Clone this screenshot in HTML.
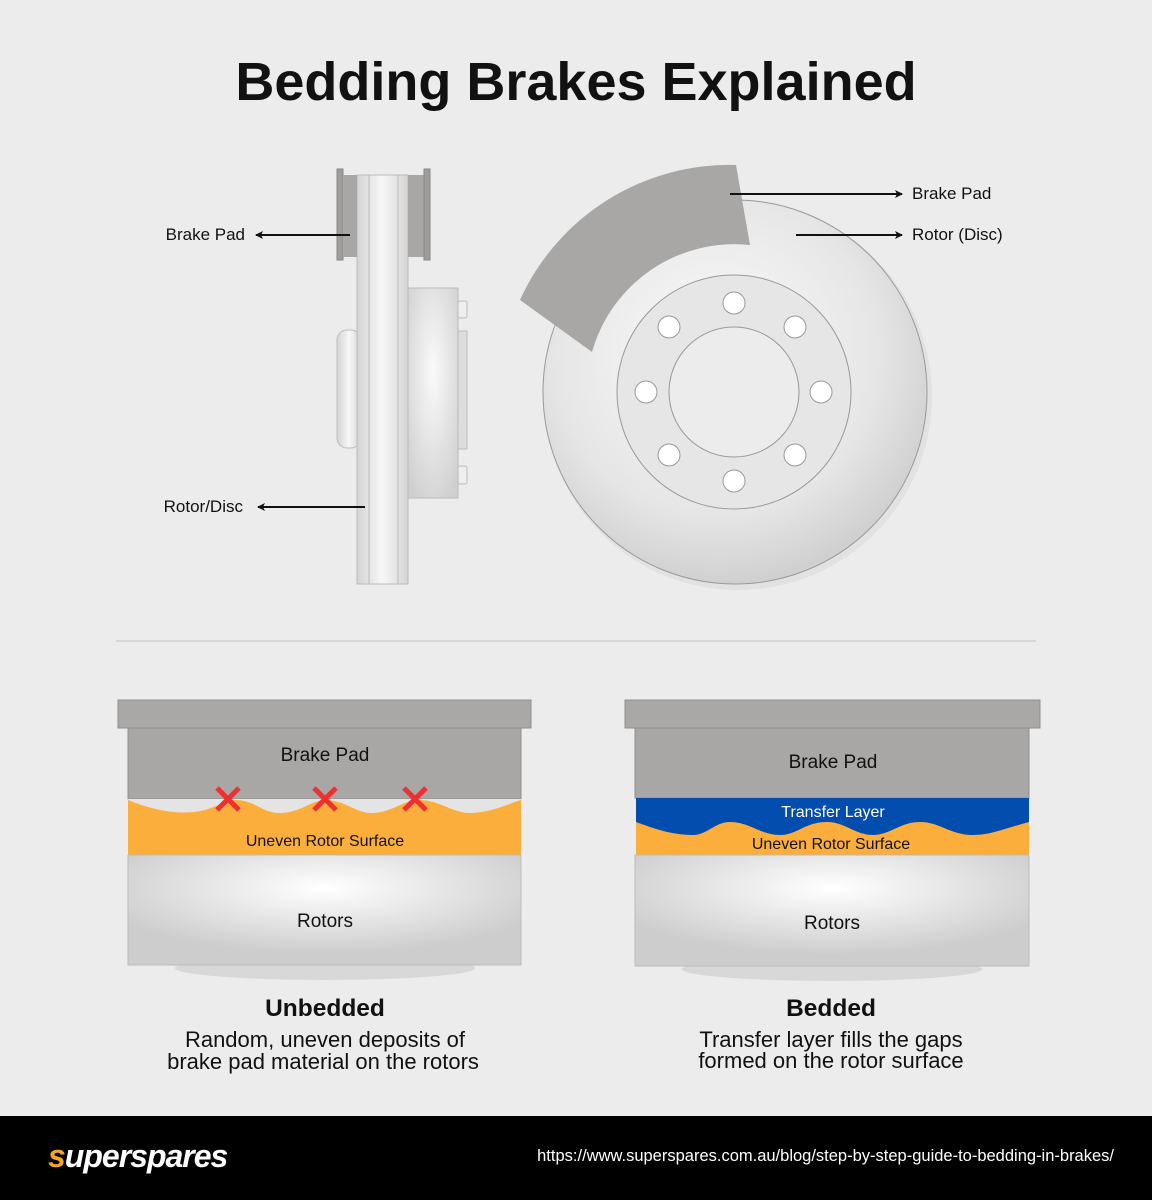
<!DOCTYPE html>
<html><head><meta charset="utf-8"><style>
html,body{margin:0;padding:0;background:#ececec;}
svg{display:block;font-family:"Liberation Sans",sans-serif;}
</style></head><body>
<svg width="1152" height="1200" viewBox="0 0 1152 1200" xmlns="http://www.w3.org/2000/svg">
<defs>
<radialGradient id="rg" cx="0.5" cy="0.4" r="0.7"><stop offset="0" stop-color="#fafafa"/><stop offset="1" stop-color="#cfcfcf"/></radialGradient>
<linearGradient id="vg" x1="0" x2="1"><stop offset="0" stop-color="#d4d4d4"/><stop offset="0.5" stop-color="#f7f7f7"/><stop offset="1" stop-color="#d4d4d4"/></linearGradient>
<radialGradient id="disc" cx="0.45" cy="0.4" r="0.6"><stop offset="0" stop-color="#fbfbfb"/><stop offset="0.7" stop-color="#e6e6e6"/><stop offset="1" stop-color="#d0d0d0"/></radialGradient>
<radialGradient id="rot" cx="0.5" cy="0.3" r="0.6"><stop offset="0" stop-color="#ffffff"/><stop offset="1" stop-color="#cdcdcd"/></radialGradient>
<marker id="ah" markerWidth="8" markerHeight="8" refX="7" refY="4" orient="auto" markerUnits="userSpaceOnUse"><path d="M0,0 L8,4 L0,8 L2,4 Z" fill="#111"/></marker>
</defs>
<rect width="1152" height="1200" fill="#ececec"/>
<text x="576" y="100" text-anchor="middle" font-size="54" font-weight="bold" fill="#111">Bedding Brakes Explained</text>

<rect x="337" y="330" width="24" height="118" rx="10" fill="url(#vg)" stroke="#bbb"/>
<rect x="408" y="288" width="50" height="210" fill="url(#rg)" stroke="#bbb"/>
<rect x="458" y="331" width="9" height="118" fill="#ddd" stroke="#bbb"/>
<rect x="458" y="301" width="9" height="17" rx="2" fill="#eee" stroke="#bbb"/>
<rect x="458" y="466" width="9" height="18" rx="2" fill="#eee" stroke="#bbb"/>
<rect x="357" y="175" width="51" height="409" fill="url(#vg)" stroke="#bbb"/>
<line x1="369" y1="175" x2="369" y2="584" stroke="#bbb"/>
<line x1="398" y1="175" x2="398" y2="584" stroke="#bbb"/>
<rect x="337" y="169" width="6" height="91" fill="#9e9d9b" stroke="#888"/>
<rect x="343" y="175" width="14" height="82" fill="#a8a7a5"/>
<rect x="408" y="175" width="16" height="82" fill="#a8a7a5"/>
<rect x="424" y="169" width="6" height="91" fill="#9e9d9b" stroke="#888"/>
<line x1="350" y1="235" x2="256" y2="235" stroke="#111" stroke-width="2" marker-end="url(#ah)"/>
<line x1="365" y1="507" x2="258" y2="507" stroke="#111" stroke-width="2" marker-end="url(#ah)"/>
<text x="245" y="240" text-anchor="end" font-size="17" fill="#111">Brake Pad</text>
<text x="243" y="512" text-anchor="end" font-size="17" fill="#111">Rotor/Disc</text>

<circle cx="738" cy="396" r="194" fill="#d8d8d8" opacity="0.5"/>
<circle cx="735" cy="392" r="192" fill="url(#disc)" stroke="#999"/>
<circle cx="734" cy="392" r="117" fill="#e6e6e6" stroke="#999"/>
<circle cx="734" cy="392" r="65" fill="#ececec" stroke="#999"/>
<g fill="#fff" stroke="#999">
<circle cx="734" cy="303" r="11"/><circle cx="795" cy="327" r="11"/><circle cx="821" cy="392" r="11"/><circle cx="795" cy="455" r="11"/>
<circle cx="734" cy="481" r="11"/><circle cx="669" cy="455" r="11"/><circle cx="646" cy="392" r="11"/><circle cx="669" cy="327" r="11"/>
</g>
<path d="M736,165 A230,230 0 0 0 520,300 L592,352 A148,148 0 0 1 750,245 Z" fill="#a8a7a5"/>
<line x1="730" y1="194" x2="902" y2="194" stroke="#111" stroke-width="2" marker-end="url(#ah)"/>
<line x1="796" y1="235" x2="902" y2="235" stroke="#111" stroke-width="2" marker-end="url(#ah)"/>
<text x="912" y="199" font-size="17" fill="#111">Brake Pad</text>
<text x="912" y="240" font-size="17" fill="#111">Rotor (Disc)</text>

<line x1="116" y1="641" x2="1036" y2="641" stroke="#d6d6d6" stroke-width="2"/>

<ellipse cx="325" cy="968" rx="150" ry="12" fill="#d0d0d0" opacity="0.7"/>
<rect x="118" y="700" width="413" height="28" fill="#a9a8a6" stroke="#8f8f8f"/>
<rect x="128" y="728" width="393" height="71" fill="#a8a7a5" stroke="#8f8f8f"/>
<rect x="128" y="799" width="393" height="20" fill="#e4e4e4"/>
<path d="M128,800 C160,813 185,815 205,810 C220,805 228,800 235,800 C255,800 262,813 280,813 C300,813 312,800 325,800 C345,800 355,813 372,813 C390,813 405,800 418,800 C440,800 452,813 470,813 C490,813 505,805 521,800 L521,855 L128,855 Z" fill="#fbae3c"/>
<g stroke="#f03030" stroke-width="5">
<path d="M217,788 L239,810 M239,788 L217,810"/><path d="M314,788 L336,810 M336,788 L314,810"/><path d="M404,788 L426,810 M426,788 L404,810"/>
</g>
<rect x="128" y="855" width="393" height="110" fill="url(#rot)" stroke="#bbb"/>
<text x="325" y="761" text-anchor="middle" font-size="19" fill="#111">Brake Pad</text>
<text x="325" y="846" text-anchor="middle" font-size="16" fill="#111">Uneven Rotor Surface</text>
<text x="325" y="927" text-anchor="middle" font-size="19" fill="#111">Rotors</text>
<text x="325" y="1016" text-anchor="middle" font-size="24.5" font-weight="bold" fill="#111">Unbedded</text>
<text x="325" y="1047" text-anchor="middle" font-size="22" fill="#111">Random, uneven deposits of</text>
<text x="323" y="1069" text-anchor="middle" font-size="22" fill="#111">brake pad material on the rotors</text>

<ellipse cx="832" cy="969" rx="150" ry="12" fill="#d0d0d0" opacity="0.7"/>
<rect x="625" y="700" width="415" height="28" fill="#a9a8a6" stroke="#8f8f8f"/>
<rect x="635" y="728" width="394" height="70" fill="#a8a7a5" stroke="#8f8f8f"/>
<rect x="636" y="798" width="393" height="57" fill="#fbae3c"/>
<path d="M636,798 L1029,798 L1029,822 C1000,830 990,835 973,835 C950,835 940,822 920,822 C900,822 890,835 873,835 C855,835 845,822 827,822 C805,822 797,835 780,835 C760,835 750,822 730,822 C715,822 707,835 693,835 C670,835 650,827 636,822 Z" fill="#034daf"/>
<rect x="635" y="855" width="394" height="111" fill="url(#rot)" stroke="#bbb"/>
<text x="833" y="768" text-anchor="middle" font-size="19" fill="#111">Brake Pad</text>
<text x="833" y="817" text-anchor="middle" font-size="16" fill="#fff">Transfer Layer</text>
<text x="831" y="849" text-anchor="middle" font-size="16" fill="#111">Uneven Rotor Surface</text>
<text x="832" y="929" text-anchor="middle" font-size="19" fill="#111">Rotors</text>
<text x="831" y="1016" text-anchor="middle" font-size="24.5" font-weight="bold" fill="#111">Bedded</text>
<text x="831" y="1047" text-anchor="middle" font-size="22" fill="#111">Transfer layer fills the gaps</text>
<text x="831" y="1068" text-anchor="middle" font-size="22" fill="#111">formed on the rotor surface</text>

<rect x="0" y="1116" width="1152" height="84" fill="#000"/>
<text x="48" y="1167" font-size="32" font-weight="bold" font-style="italic" fill="#fff" letter-spacing="-1"><tspan fill="#f5a623">s</tspan>uperspares</text>
<text x="1114" y="1161" text-anchor="end" font-size="16.5" fill="#fff">https://www.superspares.com.au/blog/step-by-step-guide-to-bedding-in-brakes/</text>
</svg>
</body></html>
